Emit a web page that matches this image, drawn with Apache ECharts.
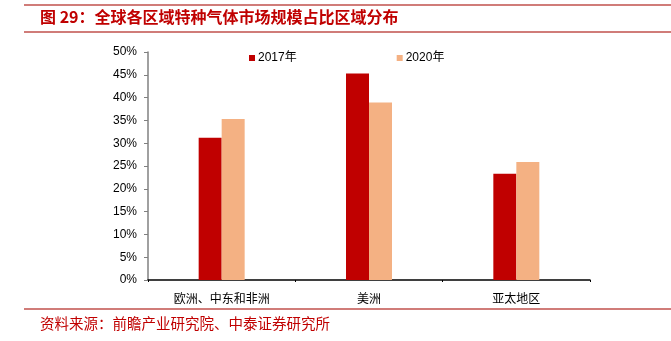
<!DOCTYPE html>
<html><head><meta charset="utf-8">
<script src="https://cdn.jsdelivr.net/npm/echarts@6/dist/echarts.min.js"></script>
<style>html,body{margin:0;padding:0;background:#fff}#c{width:671px;height:341px}</style>
</head><body><div id="c"></div>
<script>
const categories = ['欧洲、中东和非洲', '美洲', '亚太地区'];
const seriesNames = ['2017年', '2020年'];
const values2017 = [31.2, 45.3, 23.3];
const values2020 = [35.3, 38.9, 25.9];
const yTicks = [0, 5, 10, 15, 20, 25, 30, 35, 40, 45, 50];
const titleText = '图 29：全球各区域特种气体市场规模占比区域分布';
const sourceText = '资料来源：前瞻产业研究院、中泰证券研究所';

const chart = echarts.init(document.getElementById('c'), null, {renderer: 'canvas'});
const red = '#C00000', peach = '#F4B183';
chart.setOption({
  animation: false,
  graphic: [
    {type: 'line', shape: {x1: 24, y1: 5, x2: 671, y2: 5}, style: {stroke: '#C0504D', lineWidth: 1.5}},
    {type: 'line', shape: {x1: 24, y1: 32, x2: 671, y2: 32}, style: {stroke: '#C0504D', lineWidth: 1.5}},
    {type: 'text', left: 40, top: 9, style: {text: titleText, fill: '#C00000', font: 'bold 16px "Noto Sans CJK SC"'}},
    {type: 'line', shape: {x1: 24, y1: 309, x2: 671, y2: 309}, style: {stroke: '#C0504D', lineWidth: 1.5}},
    {type: 'text', left: 40, top: 316, style: {text: sourceText, fill: '#C00000', font: '14.5px "Noto Sans CJK SC"'}}
  ],
  legend: {
    top: 47, left: 244, itemWidth: 6, itemHeight: 6, itemGap: 100,
    icon: 'rect',
    textStyle: {fontSize: 12, color: '#000', fontFamily: 'Liberation Sans, "Noto Sans CJK SC"', padding: [0, 0, 0, -2]},
    data: seriesNames
  },
  grid: {left: 148, right: 81, top: 52, bottom: 61, containLabel: false},
  xAxis: {
    type: 'category', data: categories,
    axisLine: {lineStyle: {color: '#000', width: 1.5}},
    axisTick: {show: true, length: 2, lineStyle: {color: '#000'}},
    axisLabel: {color: '#000', fontSize: 12, margin: 12, fontFamily: '"Noto Sans CJK SC"'}
  },
  yAxis: {
    type: 'value', min: 0, max: 50, interval: 5,
    axisLine: {show: true, lineStyle: {color: '#808080', width: 1.5}},
    axisTick: {show: true, inside: false, length: 4, lineStyle: {color: '#808080'}},
    splitLine: {show: false},
    axisLabel: {color: '#000', fontSize: 12, margin: 11, fontFamily: 'Liberation Sans', formatter: v => v + '%'}
  },
  series: [
    {name: seriesNames[0], type: 'bar', data: values2017, barWidth: 23, barGap: '0%', itemStyle: {color: red}},
    {name: seriesNames[1], type: 'bar', data: values2020, barWidth: 23, barGap: '0%', itemStyle: {color: peach}}
  ]
});
</script></body></html>
